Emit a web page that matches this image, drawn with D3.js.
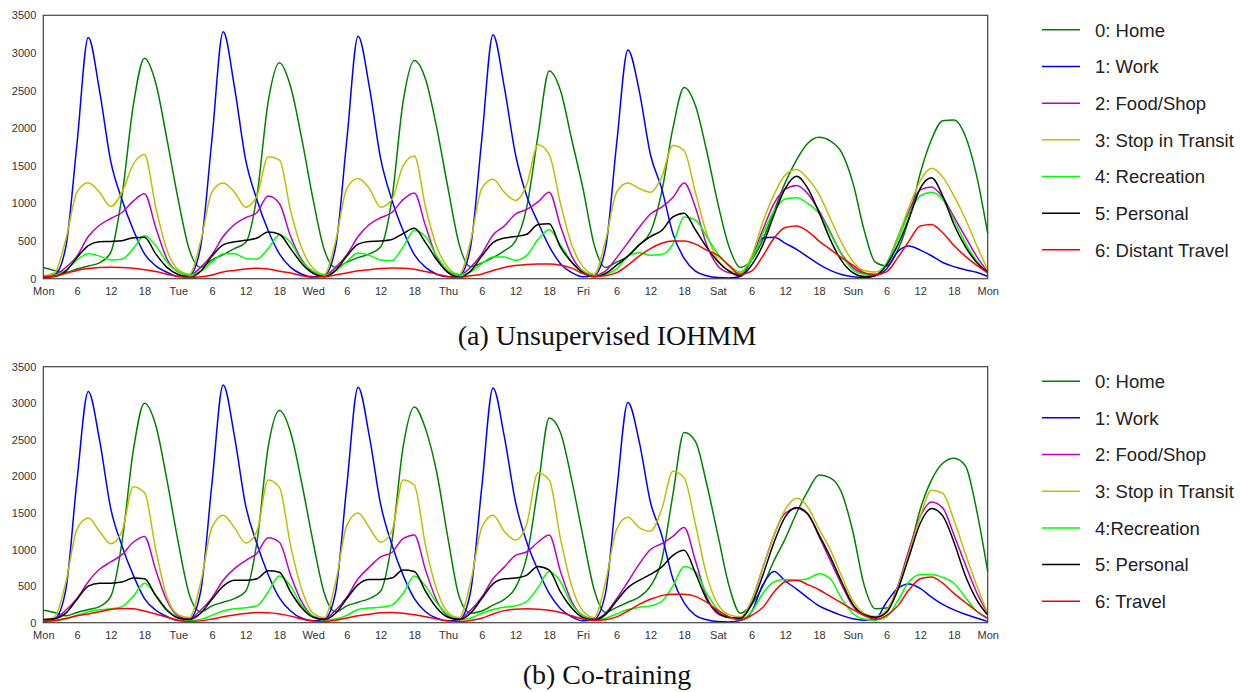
<!DOCTYPE html>
<html>
<head>
<meta charset="utf-8">
<script src="https://cdn.jsdelivr.net/npm/d3@7"></script>
<style>
body{margin:0;background:#fff;}
text{font-family:"Liberation Sans",Arial,sans-serif;}
</style>
</head>
<body>
<script>
var w=1241;
var h=692;

// one value every 2 hours, Mon 0h .. next Mon 0h
var hours=d3.range(0,169,2);
var tickHours=d3.range(0,169,6);
var dayNames=["Mon","Tue","Wed","Thu","Fri","Sat","Sun","Mon"];
var yTicks=d3.range(0,3501,500);

var colors=["#008000","#0000ff","#bf00bf","#bfbf00","#00ff00","#000000","#ff0000"];
var namesA=["0: Home","1: Work","2: Food/Shop","3: Stop in Transit","4: Recreation","5: Personal","6: Distant Travel"];
var namesB=["0: Home","1: Work","2: Food/Shop","3: Stop in Transit","4:Recreation","5: Personal","6: Travel"];

// (a) Unsupervised IOHMM
var homeA=[150,110,85,130,170,210,350,1100,2300,2930,2600,1850,
  1050,380,150,250,320,400,480,1100,2350,2870,2550,1850,
  1050,380,150,220,280,330,420,1050,2350,2900,2650,2000,
  1200,450,160,210,280,370,500,950,1900,2760,2500,1850,
  1200,450,150,220,300,450,620,1150,2000,2540,2300,1700,
  1000,420,150,250,520,900,1280,1580,1800,1878,1830,1680,
  1280,650,220,170,380,800,1400,1850,2100,2110,1900,1380,600];
var workA=[30,55,420,1800,3205,2500,1560,1050,650,330,170,85,
  30,45,430,1850,3280,2550,1580,1050,640,330,150,60,
  25,45,420,1850,3220,2550,1600,1050,640,320,150,60,
  25,40,420,1850,3240,2550,1650,1100,750,430,200,80,
  25,45,400,1800,3040,2500,1650,1200,600,270,100,40,
  15,10,30,250,540,550,470,390,290,190,110,55,
  25,15,40,130,360,434,380,305,215,160,120,85,30];
var foodA=[30,50,150,300,560,710,800,880,1030,1130,680,260,
  90,45,150,320,560,720,810,880,1100,1000,560,250,
  90,45,150,320,560,720,810,880,1050,1140,700,280,
  90,45,150,330,580,700,860,920,1020,1150,700,300,
  100,45,100,280,480,680,860,950,1080,1270,950,450,
  170,80,60,280,650,1000,1190,1240,1130,900,620,330,
  150,70,60,200,550,900,1180,1220,1080,820,560,300,90];
var transitA=[40,80,520,1150,1275,1150,960,1150,1520,1650,950,380,
  120,60,500,1150,1270,1150,950,1100,1620,1580,900,400,
  140,60,500,1200,1330,1200,950,1050,1500,1630,950,420,
  150,60,500,1200,1320,1150,1040,1250,1780,1650,1000,450,
  160,60,500,1150,1270,1200,1150,1350,1770,1700,1150,600,
  250,110,75,300,750,1120,1380,1450,1330,1120,800,480,
  230,110,90,200,550,950,1300,1466,1350,1100,800,450,115];
var recA=[35,45,110,250,330,300,250,260,400,575,440,220,
  90,45,100,220,330,330,270,260,400,580,480,230,
  100,45,100,230,340,310,250,240,420,640,560,300,
  110,50,90,200,290,290,245,310,520,650,450,220,
  100,40,60,130,300,345,310,320,460,820,780,560,
  330,180,90,250,600,900,1060,1075,1000,870,600,320,
  120,60,55,200,520,860,1100,1150,1050,780,480,240,60];
var personalA=[20,30,100,280,440,490,495,505,545,550,330,150,
  55,20,100,300,450,490,510,540,620,590,400,200,
  70,25,110,300,460,495,500,520,600,670,480,250,
  80,20,100,300,480,540,560,590,720,730,420,220,
  80,25,70,180,300,450,560,640,820,870,650,420,
  230,100,35,180,450,850,1200,1360,1200,880,520,240,
  80,30,40,180,450,800,1200,1340,1100,720,430,220,90];
var travelA=[25,35,70,110,135,148,152,150,140,120,95,60,
  30,18,25,50,90,110,130,138,130,100,75,40,
  20,25,50,75,105,120,135,142,140,125,95,60,
  30,13,40,60,110,150,175,190,195,195,180,140,
  70,30,40,80,180,300,400,470,500,500,460,380,
  310,170,55,100,300,540,680,700,630,500,390,280,
  180,80,50,90,280,500,700,720,610,440,300,180,80];

// (b) Co-training
var homeB=[170,140,95,140,180,220,360,1100,2350,3000,2700,1950,
  1100,380,150,230,280,330,430,1100,2400,2900,2600,1900,
  1100,400,150,230,280,330,430,1100,2400,2950,2650,2050,
  1150,350,130,160,240,320,480,900,1850,2800,2600,1950,
  1180,450,140,210,280,350,500,850,1750,2600,2480,1900,
  1200,500,130,250,500,850,1150,1500,1800,2020,1980,1780,
  1250,520,190,200,450,950,1550,1950,2180,2250,2150,1550,700];
var workB=[30,55,450,1950,3160,2500,1560,1050,650,330,170,85,
  30,45,430,1900,3250,2550,1600,1080,660,340,160,60,
  25,45,420,1880,3220,2550,1620,1070,650,330,150,60,
  25,40,420,1850,3210,2550,1650,1100,720,400,190,80,
  25,45,400,1800,3010,2480,1650,1200,600,270,100,40,
  15,10,30,150,520,700,570,460,340,230,160,100,
  55,35,50,280,470,530,470,350,250,175,115,65,15];
var foodB=[35,55,170,330,560,730,830,930,1100,1180,720,300,
  90,50,170,340,580,740,850,950,1160,1100,650,280,
  90,50,170,350,600,760,900,960,1150,1200,720,300,
  95,50,170,350,600,760,920,970,1100,1200,700,290,
  95,50,130,330,560,800,1000,1080,1180,1300,850,350,
  120,70,60,300,750,1200,1500,1560,1480,1180,850,520,
  230,100,70,150,500,1000,1450,1650,1570,1200,800,420,130];
var transitB=[40,80,550,1280,1430,1250,1080,1250,1860,1780,1000,350,
  110,70,550,1300,1470,1300,1090,1250,1950,1850,1050,450,
  130,70,550,1330,1500,1300,1100,1250,1950,1880,1050,450,
  140,70,550,1300,1470,1250,1130,1350,2050,1950,1150,500,
  160,70,550,1280,1440,1300,1250,1550,2070,1980,1350,650,
  250,110,80,300,750,1200,1550,1700,1580,1280,1000,640,
  300,130,85,170,480,950,1450,1810,1770,1400,950,520,130];
var recB=[15,25,50,100,150,175,190,220,360,540,380,180,
  70,30,45,100,160,190,205,230,420,640,500,230,
  90,35,50,100,180,200,210,240,400,640,500,270,
  110,40,60,130,180,210,230,290,480,700,560,250,
  100,40,60,120,180,210,230,290,500,770,700,400,
  180,80,40,150,400,560,590,580,600,670,600,330,
  130,50,35,80,300,560,660,660,620,540,350,160,55];
var personalB=[45,55,130,320,500,540,540,555,610,600,370,170,
  65,45,130,320,500,580,580,600,710,690,420,200,
  75,45,130,330,520,590,590,610,720,700,430,200,
  75,45,130,330,530,600,610,650,770,720,420,200,
  70,40,110,300,480,580,660,760,920,990,680,320,
  140,70,60,250,650,1100,1450,1575,1490,1200,900,560,
  250,110,75,140,450,900,1360,1560,1460,1100,650,320,105];
var travelB=[15,30,60,95,120,150,180,195,190,160,120,75,
  35,15,25,50,80,105,125,138,135,120,90,50,
  23,15,35,65,95,115,135,140,130,110,80,50,
  25,15,30,60,120,165,185,190,185,170,140,95,
  50,30,40,80,160,250,320,370,390,390,360,280,
  170,80,40,100,210,420,560,580,520,450,360,270,
  180,100,45,100,230,450,600,625,540,400,280,160,60];

var seriesA=[homeA,workA,foodA,transitA,recA,personalA,travelA];
var seriesB=[homeB,workB,foodB,transitB,recB,personalB,travelB];

var svg=d3.select("body")
  .append("svg")
  .attr("width",w)
  .attr("height",h);

var x=d3.scaleLinear().domain([0,168]).range([43.3,987.7]);

function drawPanel(series,names,top,bottom,caption,capY){
  var y=d3.scaleLinear().domain([0,3500]).range([bottom,top]);
  var g=svg.append("g");

  var line=d3.line()
    .x((d,i)=>x(hours[i]))
    .y(d=>y(d))
    .curve(d3.curveMonotoneX);

  g.selectAll("path.series")
    .data(series)
    .enter()
    .append("path")
    .attr("class","series")
    .attr("d",line)
    .attr("fill","none")
    .attr("stroke",(d,i)=>colors[i])
    .attr("stroke-width",1.5);

  // x axis: day names at midnight, hours otherwise
  var xAxis=d3.axisBottom(x)
    .tickValues(tickHours)
    .tickSize(0)
    .tickPadding(8.5)
    .tickFormat(d=>d%24==0 ? dayNames[d/24] : String(d%24));
  g.append("g")
    .attr("transform","translate(0,"+bottom+")")
    .call(xAxis)
    .call(a=>a.select(".domain").remove())
    .selectAll("text")
    .attr("fill","#333")
    .style("font-size","11px");

  var yAxis=d3.axisLeft(y)
    .tickValues(yTicks)
    .tickSize(0)
    .tickPadding(7)
    .tickFormat(d3.format("d"));
  g.append("g")
    .attr("transform","translate(43.3,0)")
    .call(yAxis)
    .call(a=>a.select(".domain").remove())
    .selectAll("text")
    .attr("fill","#333")
    .style("font-size","11px");

  //frame
  g.append("rect")
    .attr("x",x(0))
    .attr("y",top)
    .attr("width",x(168)-x(0))
    .attr("height",bottom-top)
    .attr("fill","none")
    .attr("stroke","#444")
    .attr("stroke-width",1.2);

  // legend
  var leg=g.selectAll("g.leg")
    .data(names)
    .enter()
    .append("g")
    .attr("class","leg")
    .attr("transform",(d,i)=>"translate(0,"+(top+14.5+i*36.67)+")");
  leg.append("line")
    .attr("x1",1042).attr("x2",1080)
    .attr("y1",0).attr("y2",0)
    .attr("stroke",(d,i)=>colors[i])
    .attr("stroke-width",1.5);
  leg.append("text")
    .attr("x",1095)
    .attr("y",6.7)
    .attr("fill","#222")
    .style("font-size","18.5px")
    .text(d=>d);

  g.append("text")
    .attr("x",607)
    .attr("y",capY)
    .attr("text-anchor","middle")
    .attr("fill","#111")
    .style("font-family","'Liberation Serif','Times New Roman',serif")
    .style("font-size","28px")
    .text(caption);
}

drawPanel(seriesA,namesA,15.3,278.7,"(a) Unsupervised IOHMM",345);
drawPanel(seriesB,namesB,366.7,622.7,"(b) Co-training",684);
</script>
</body>
</html>
